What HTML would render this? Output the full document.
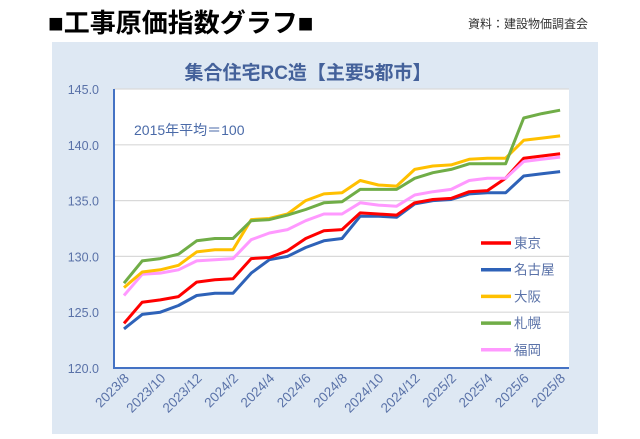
<!DOCTYPE html>
<html><head><meta charset="utf-8"><style>
body{margin:0;background:#fff;width:640px;height:434px;overflow:hidden;font-family:"Liberation Sans","Noto Sans CJK JP",sans-serif}
</style></head><body>
<svg id="s" width="640" height="434" xmlns="http://www.w3.org/2000/svg" font-family="Liberation Sans, Noto Sans CJK JP, sans-serif">
<rect x="52" y="42" width="546" height="392" fill="#dee8f3"/>
<rect x="114" y="89" width="455" height="279" fill="#fff"/>
<text x="48" y="32" font-size="26" font-weight="bold" fill="#000">■工事原価指数グラフ■</text>
<text x="588" y="28" font-size="12" fill="#333" text-anchor="end">資料：建設物価調査会</text>
<text x="308" y="79" font-size="19" font-weight="bold" fill="#44619a" text-anchor="middle">集合住宅RC造【主要5都市】</text>
<text x="134" y="135" font-size="14" fill="#4a6aa8">2015年平均＝100</text>
<g id="g"></g>
</svg>
<script>
var g=document.getElementById('g'),h='';
function Y(v){return 368-(v-120)*11.16}
function X(i){return 124+i*18.17}
[125,130,135,140,145].forEach(function(v){h+='<line x1="114" x2="569" y1="'+Y(v)+'" y2="'+Y(v)+'" stroke="#d9d9d9" stroke-width="1.2"/>'});
[120,125,130,135,140,145].forEach(function(v){h+='<text x="99" y="'+(Y(v)+5)+'" font-size="12.5" fill="#5a72a8" text-anchor="end">'+v.toFixed(1)+'</text>'});
h+='<line x1="114" y1="89" x2="114" y2="369" stroke="#4472c4" stroke-width="2"/><line x1="113" y1="368" x2="569" y2="368" stroke="#4472c4" stroke-width="2"/>';
var d={
'#2e62b8':[123.5,124.8,125.0,125.6,126.5,126.7,126.7,128.5,129.7,130.0,130.8,131.4,131.6,133.6,133.6,133.5,134.7,135.0,135.1,135.6,135.7,135.7,137.2,137.4,137.6],
'#ff0000':[124.0,125.9,126.1,126.4,127.7,127.9,128.0,129.8,129.9,130.5,131.6,132.3,132.4,133.9,133.8,133.7,134.8,135.1,135.2,135.8,135.9,137.0,138.8,139.0,139.2],
'#ff99ff':[126.5,128.4,128.5,128.8,129.6,129.7,129.8,131.5,132.1,132.4,133.2,133.8,133.8,134.8,134.6,134.5,135.5,135.8,136.0,136.8,137.0,137.0,138.5,138.7,138.9],
'#ffc000':[127.2,128.6,128.8,129.2,130.4,130.6,130.6,133.3,133.4,133.8,135.0,135.6,135.7,136.8,136.4,136.3,137.8,138.1,138.2,138.7,138.8,138.8,140.4,140.6,140.8],
'#70ad47':[127.6,129.6,129.8,130.2,131.4,131.6,131.6,133.2,133.3,133.7,134.2,134.8,134.9,136.0,136.0,136.0,137.0,137.5,137.8,138.3,138.3,138.3,142.4,142.8,143.1]};
for(var c in d){h+='<polyline fill="none" stroke="'+c+'" stroke-width="3" stroke-linejoin="round" points="'+d[c].map(function(v,i){return X(i).toFixed(1)+','+Y(v).toFixed(1)}).join(' ')+'"/>'}
var L=[['東京','#ff0000'],['名古屋','#2e62b8'],['大阪','#ffc000'],['札幌','#70ad47'],['福岡','#ff99ff']];
L.forEach(function(l,i){var y=243+i*26.7;h+='<line x1="481" x2="511" y1="'+y+'" y2="'+y+'" stroke="'+l[1]+'" stroke-width="3.5"/><text x="514" y="'+(y+5)+'" font-size="13.5" fill="#5a72a8">'+l[0]+'</text>'});
var m=['2023/8','2023/10','2023/12','2024/2','2024/4','2024/6','2024/8','2024/10','2024/12','2025/2','2025/4','2025/6','2025/8'];
m.forEach(function(t,i){var x=X(i*2)+6;h+='<text transform="translate('+x+',379) rotate(-45)" font-size="13.5" fill="#5a72a8" text-anchor="end">'+t+'</text>'});
g.innerHTML=h;
</script>
</body></html>
